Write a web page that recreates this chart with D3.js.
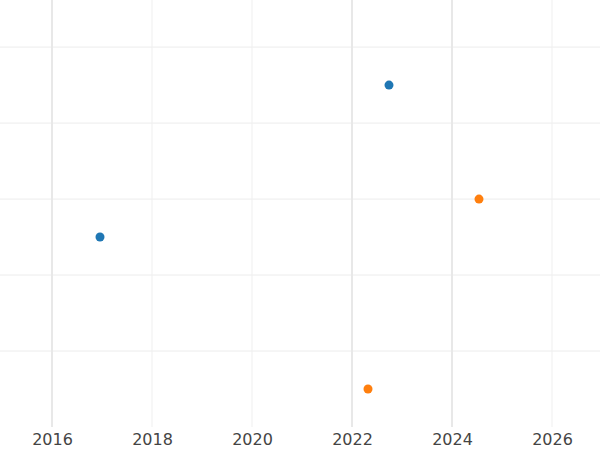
<!DOCTYPE html>
<html><head><meta charset="utf-8">
<script src="https://cdn.jsdelivr.net/npm/d3@7"></script>
<style>body{margin:0;background:#fff}</style>
</head><body>
<svg id="chart" width="600" height="450"></svg>
<script>
const xTicks = [2016, 2018, 2020, 2022, 2024, 2026];
const strongTicks = [2016, 2022, 2024];
const yGrid = [1, 2, 3, 4, 5];
const blueX = [2016.96, 2022.74];
const blueY = [2.5, 4.5];
const orangeX = [2024.54, 2022.32];
const orangeY = [3, 0.5];

const svg = d3.select('#chart');
const x = d3.scaleLinear().domain([2014.96, 2026.96]).range([0, 600]);
const y = d3.scaleLinear().domain([0, 5.62]).range([427, 0]);

// grid
svg.append('g').selectAll('line').data(yGrid).join('line')
  .attr('x1', 0).attr('x2', 600)
  .attr('y1', d => y(d)).attr('y2', d => y(d))
  .attr('stroke', '#ececec').attr('stroke-width', 1);
svg.append('g').selectAll('line').data(xTicks).join('line')
  .attr('x1', d => x(d)).attr('x2', d => x(d))
  .attr('y1', 0).attr('y2', 427)
  .attr('stroke', d => strongTicks.includes(d) ? '#e8e8e8' : '#efefef')
  .attr('stroke-width', d => strongTicks.includes(d) ? 2 : 1);

// x axis labels
const axis = svg.append('g').attr('transform', 'translate(0,427)')
  .call(d3.axisBottom(x).tickValues(xTicks).tickFormat(d3.format('d')).tickSize(0).tickPadding(7));
axis.select('.domain').remove();
axis.selectAll('text').attr('font-family', 'DejaVu Sans').attr('font-size', 16).attr('fill', '#444');

// points
const pts = blueX.map((v, i) => ({x: v, y: blueY[i], c: '#1f77b4'}))
  .concat(orangeX.map((v, i) => ({x: v, y: orangeY[i], c: '#ff7f0e'})));
svg.append('g').selectAll('circle').data(pts).join('circle')
  .attr('cx', d => x(d.x)).attr('cy', d => y(d.y)).attr('r', 4.5)
  .attr('fill', d => d.c);
</script>
</body></html>
